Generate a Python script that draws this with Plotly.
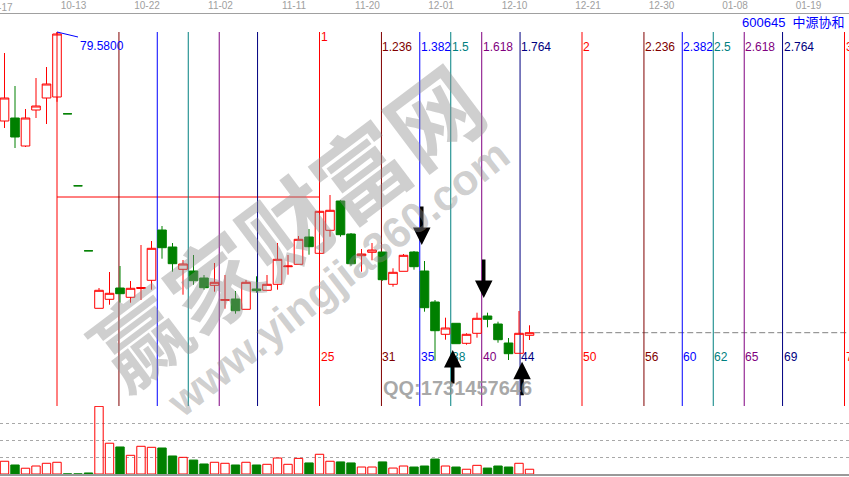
import plotly.graph_objects as go

# ---------------- data ----------------
bar_index = list(range(-5, 46))  # trading-day index, 0 = the 79.58 high bar

opens = [70.68, 70.98, 68.18, 71.78, 72.98, 73.08,
         71.40, 64.20, 57.70,
         51.95, 52.85, 53.98, 53.05, 53.93, 54.75, 59.78, 58.08, 55.85, 55.68,
         54.98, 54.25, 52.75, 52.88, 51.85, 53.88, 53.75, 54.35, 56.11, 56.35,
         59.08, 57.45, 59.75, 62.68, 59.38, 57.21, 57.55, 57.58, 54.35, 55.65,
         57.58, 55.68, 52.58, 49.35, 50.45, 48.45, 49.45, 51.18, 50.38, 48.48,
         47.45, 49.25]
highs = [77.48, 74.18, 71.88, 74.98, 76.08, 79.58,
         71.40, 64.20, 57.70,
         53.98, 55.58, 56.18, 54.68, 58.28, 58.68, 60.18, 58.48, 56.78, 57.28,
         55.28, 56.48, 55.28, 53.68, 54.78, 55.15, 55.28, 58.48, 57.28, 59.18,
         59.88, 61.68, 63.28, 62.78, 59.48, 57.88, 58.48, 57.58, 55.95, 57.38,
         57.68, 56.68, 52.78, 51.01, 50.45, 49.45, 51.51, 51.51, 50.61, 48.98,
         51.68, 50.25]
lows = [69.98, 67.98, 68.08, 70.98, 70.38, 72.60,
        71.40, 64.20, 57.70,
        51.95, 52.31, 52.51, 52.51, 52.78, 53.81, 56.91, 55.61, 53.31, 54.31,
        53.81, 53.61, 51.91, 51.41, 51.85, 53.51, 53.75, 53.81, 55.31, 56.35,
        57.31, 57.45, 59.11, 59.11, 56.21, 55.61, 56.75, 54.71, 54.11, 55.65,
        55.81, 51.61, 46.71, 48.81, 48.41, 48.31, 49.01, 50.05, 48.51, 46.78,
        47.45, 48.78]
closes = [72.98, 69.08, 70.98, 72.18, 74.38, 79.38,
          71.40, 64.20, 57.70,
          53.75, 53.45, 53.41, 53.95, 54.03, 57.95, 58.01, 56.41, 56.38, 54.71,
          54.01, 54.55, 52.81, 51.71, 54.55, 53.71, 54.35, 56.85, 56.18, 58.85,
          58.11, 61.65, 61.75, 59.31, 56.41, 57.38, 57.78, 54.81, 55.55, 57.25,
          56.11, 52.01, 49.71, 49.98, 48.41, 49.35, 50.95, 50.85, 48.81, 47.41,
          49.45, 49.51]
volumes = [7.5, 5.3, 3.4, 4.7, 6.3, 6.9,
           0.05, 0.05, 0.6,
           39.8, 18.1, 15.9, 11.0, 16.3, 15.7, 15.3, 10.6, 9.8, 8.2,
           5.9, 6.9, 6.3, 5.3, 6.9, 5.3, 5.7, 9.4, 5.7, 9.2,
           6.5, 11.6, 7.5, 7.1, 6.5, 4.1, 4.1, 7.1, 3.5, 4.7,
           4.1, 4.7, 8.8, 4.7, 4.1, 2.8, 5.1, 3.5, 4.7, 4.1,
           6.3, 2.8]

date_bar_index = [-6, 1, 8, 15, 22, 29, 36, 43, 50, 57, 64, 71]
date_labels = ["09-17", "10-13", "10-22", "11-02", "11-11", "11-20",
               "12-01", "12-10", "12-21", "12-30", "01-08", "01-19"]

# Fibonacci time zones measured from bar 0, unit = 25 bars
fib_start_bar = 0
fib_unit_bars = 25
fib_ratios = [0.236, 0.382, 0.5, 0.618, 0.764, 1,
              1.236, 1.382, 1.5, 1.618, 1.764, 2,
              2.236, 2.382, 2.5, 2.618, 2.764, 3]
fib_ratio_labels = ["0.236", "0.382", "0.5", "0.618", "0.764", "1",
                    "1.236", "1.382", "1.5", "1.618", "1.764", "2",
                    "2.236", "2.382", "2.5", "2.618", "2.764", "3"]
fib_bar_counts = [None, None, None, None, None, 25,
                  31, 35, 38, 40, 44, 50, 56, 60, 62, 65, 69, 75]

high_label = "79.5800"
high_price = 79.58
ref_level = 63.08            # horizontal line from bar 0 to bar 25

arrow_ratios = [1.382, 1.618, 1.5, 1.764]
arrow_tip_prices = [58.28, 52.98, 47.78, 46.61]
arrow_dirs = ["down", "down", "up", "up"]

stock_title = "600645  中源协和"
watermark_cn = "赢家财富网"
watermark_url = "www.yingjia360.com"
watermark_qq = "QQ:1731457646"

# ---------------- styling / layout ----------------
W, H = 849, 477
RED, GREEN = "#ff0000", "#008000"
cycle_colors = ["#800000", "#0000ff", "#008080", "#800080", "#000080", "#ff0000"]

px_first_bar = 57.0
px_per_bar = 10.5
x_min = (0 - px_first_bar) / px_per_bar
x_max = (W - px_first_bar) / px_per_bar

# price axis: 10 px per unit, high at pixel row 32
price_top = high_price + (32 - 14) / 10.0
price_bot = high_price - (406 - 32) / 10.0


def py(pix):  # pixel row -> paper fraction
    return (H - pix) / H


fig = go.Figure()

fig.add_trace(go.Candlestick(
    x=bar_index, open=opens, high=highs, low=lows, close=closes,
    increasing=dict(line=dict(color=RED, width=1), fillcolor="rgba(0,0,0,0)"),
    decreasing=dict(line=dict(color=GREEN, width=1), fillcolor=GREEN),
    whiskerwidth=0, xaxis="x", yaxis="y", showlegend=False, hoverinfo="skip",
))

# volume colours follow candle direction
vol_fill, vol_line = [], []
for k in range(len(bar_index)):
    o, c = opens[k], closes[k]
    prev = closes[k - 1] if k > 0 else c
    up = c > o or (c == o and c >= prev)
    vol_fill.append("rgba(0,0,0,0)" if up else GREEN)
    vol_line.append(RED if up else GREEN)

fig.add_trace(go.Bar(
    x=bar_index, y=volumes, width=0.8,
    marker=dict(color=vol_fill, line=dict(color=vol_line, width=1)),
    xaxis="x2", yaxis="y2", showlegend=False, hoverinfo="skip",
))

# start marker triangle at bottom of the start line
fig.add_trace(go.Scatter(
    x=[fib_start_bar], y=[price_bot - 0.15], mode="markers",
    marker=dict(symbol="triangle-up", size=7, color="black"),
    cliponaxis=False, xaxis="x", yaxis="y", showlegend=False, hoverinfo="skip",
))

shapes = []
annotations = []

# start line
shapes.append(dict(type="line", xref="x", yref="y", x0=fib_start_bar, x1=fib_start_bar,
                   y0=high_price, y1=price_bot, line=dict(color=RED, width=1), layer="below"))
# horizontal reference line
shapes.append(dict(type="line", xref="x", yref="y", x0=fib_start_bar,
                   x1=fib_start_bar + fib_unit_bars, y0=ref_level, y1=ref_level,
                   line=dict(color=RED, width=1), layer="below"))
# current price dashed line
shapes.append(dict(type="line", xref="x", yref="y", x0=bar_index[-1] + 0.45, x1=x_max,
                   y0=closes[-1], y1=closes[-1],
                   line=dict(color="#808080", width=1, dash="6px,3px"), layer="below"))

label_font = "Liberation Sans, Arial, sans-serif"
for j, r in enumerate(fib_ratios):
    xb = fib_start_bar + r * fib_unit_bars
    col = cycle_colors[j % 6]
    shapes.append(dict(type="line", xref="x", yref="y", x0=xb, x1=xb,
                       y0=high_price, y1=price_bot,
                       line=dict(color=col, width=1), layer="below"))
    if r >= 1:
        annotations.append(dict(
            x=xb, y=py(37 if r == 1 else 47), xref="x", yref="paper",
            text=fib_ratio_labels[j], showarrow=False, xanchor="left", yanchor="middle",
            xshift=-1, font=dict(family=label_font, size=12, color=col)))
        annotations.append(dict(
            x=xb, y=py(357), xref="x", yref="paper",
            text=str(fib_bar_counts[j]), showarrow=False, xanchor="left", yanchor="middle",
            xshift=-1, font=dict(family=label_font, size=12, color=col)))

# high label with connector
annotations.append(dict(
    x=fib_start_bar, y=high_price, xref="x", yref="y", text=high_label,
    showarrow=True, arrowhead=0, arrowwidth=1, arrowcolor="#0000ff",
    ax=21, ay=5, xanchor="left", yanchor="top",
    font=dict(family=label_font, size=12, color="#0000ff")))

# hand-drawn style black arrows on the time zones
for r, p, d in zip(arrow_ratios, arrow_tip_prices, arrow_dirs):
    annotations.append(dict(
        x=fib_start_bar + r * fib_unit_bars, y=p, xref="x", yref="y", text="",
        showarrow=True, arrowhead=2, arrowwidth=3.5, arrowsize=1.0, arrowcolor="black",
        ax=0, ay=(-40 if d == "down" else 35), xshift=2))

# partially visible first date label
annotations.append(dict(
    x=(date_bar_index[0] - x_min) / (x_max - x_min), y=py(8), xref="paper", yref="paper",
    text=date_labels[0], showarrow=False, xanchor="center", yanchor="middle", xshift=6,
    font=dict(family=label_font, size=10, color="#a0a0a0")))

# title
annotations.append(dict(
    x=847 / W, y=py(22), xref="paper", yref="paper", text=stock_title,
    showarrow=False, xanchor="right", yanchor="middle",
    font=dict(family="Liberation Sans, Noto Sans CJK SC, sans-serif", size=13, color="#0000ff")))

# watermarks
annotations.append(dict(
    x=284 / W, y=py(223), xref="paper", yref="paper", text="<b>" + watermark_cn + "</b>",
    showarrow=False, textangle=-37,
    font=dict(family="Noto Sans CJK SC", size=92, color="rgba(140,140,140,0.42)")))
annotations.append(dict(
    x=338 / W, y=py(278), xref="paper", yref="paper", text="<b>" + watermark_url + "</b>",
    showarrow=False, textangle=-38,
    font=dict(family="Liberation Sans, Arial, sans-serif", size=43, color="rgba(140,140,140,0.42)")))
annotations.append(dict(
    x=457 / W, y=py(401), xref="paper", yref="paper", text="<b>" + watermark_qq + "</b>",
    showarrow=False,
    font=dict(family="Liberation Sans, Arial, sans-serif", size=20, color="rgba(140,140,140,0.75)")))

fig.update_layout(
    width=W, height=H, autosize=False,
    margin=dict(l=0, r=0, t=0, b=0, pad=0),
    paper_bgcolor="white", plot_bgcolor="white",
    boxgap=0.18, boxgroupgap=0,
    showlegend=False,
    xaxis=dict(domain=[0, 1], range=[x_min, x_max], anchor="y", side="top",
               tickmode="array", tickvals=date_bar_index[1:], ticktext=date_labels[1:],
               ticklabelshift=6, ticks="", showgrid=False, zeroline=False,
               showline=True, linecolor="#a0a0a0", linewidth=1,
               tickfont=dict(family=label_font, size=10, color="#a0a0a0"),
               rangeslider=dict(visible=False), fixedrange=True),
    yaxis=dict(domain=[py(406), py(14)], range=[price_bot, price_top], anchor="x",
               showticklabels=False, showgrid=False, zeroline=False, showline=False, ticks=""),
    xaxis2=dict(domain=[0, 1], range=[x_min, x_max], anchor="y2", matches="x",
                showticklabels=False, ticks="", showgrid=False, zeroline=False,
                showline=True, linecolor="#999999", linewidth=2),
    yaxis2=dict(domain=[py(474), py(406)], range=[0, 40], anchor="x2",
                tickvals=[10, 20, 30, 40], showticklabels=False, ticks="",
                showgrid=True, gridcolor="#a8a8a8", griddash="3px,3px", gridwidth=1,
                zeroline=False, showline=False),
    shapes=shapes,
    annotations=annotations,
)

fig.write_html("out.html", config={"displayModeBar": False},
               post_script="document.body.style.margin='0';document.body.style.overflow='hidden';")
